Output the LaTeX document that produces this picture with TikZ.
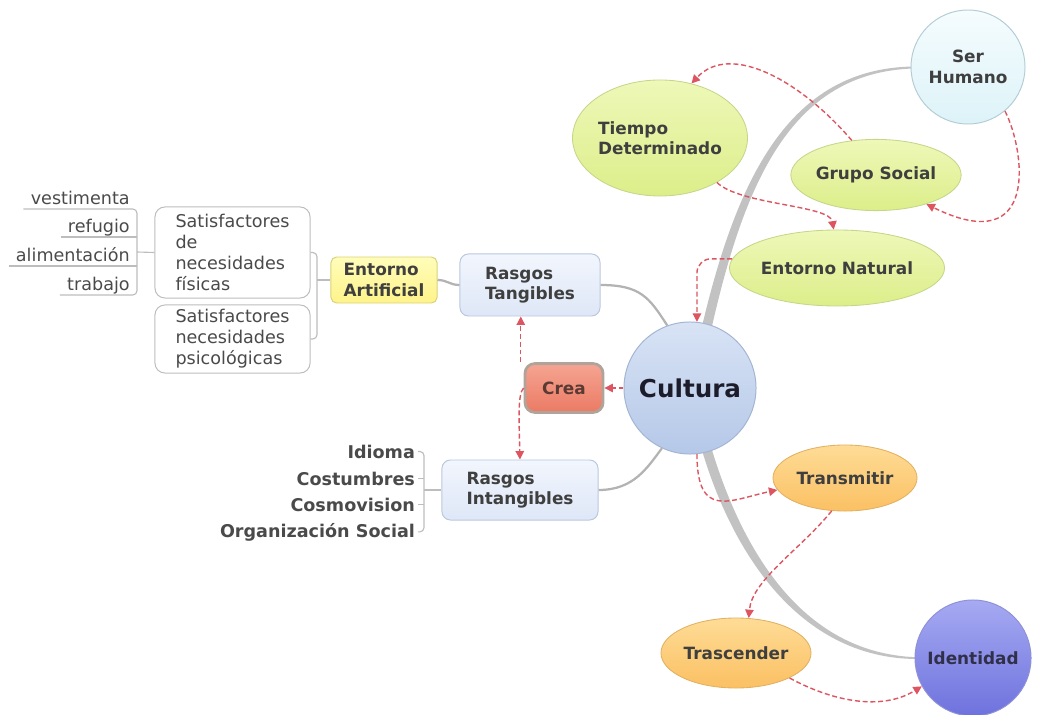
\documentclass[tikz,border=0pt]{standalone}
\usepackage{fontspec}
\setmainfont{DejaVu Sans}
\usetikzlibrary{shapes.geometric,arrows.meta,calc}
\definecolor{txt}{HTML}{3F3F3F}
\definecolor{leaftxt}{HTML}{4A4A4A}
\definecolor{greenTop}{HTML}{EEF8B8}
\definecolor{greenBot}{HTML}{DCEE8A}
\definecolor{greenDraw}{HTML}{C5D68A}
\definecolor{orangeTop}{HTML}{FEDC96}
\definecolor{orangeBot}{HTML}{FBC063}
\definecolor{orangeDraw}{HTML}{E2B061}
\definecolor{cultTop}{HTML}{D8E3F5}
\definecolor{cultBot}{HTML}{B5C8E8}
\definecolor{cultDraw}{HTML}{A3B5D3}
\definecolor{cultTxt}{HTML}{1C1C2A}
\definecolor{shTop}{HTML}{F5FCFE}
\definecolor{shBot}{HTML}{DDF3F8}
\definecolor{shDraw}{HTML}{B4CDD5}
\definecolor{idTop}{HTML}{A6AAF2}
\definecolor{idBot}{HTML}{6E72DD}
\definecolor{idDraw}{HTML}{8E90D8}
\definecolor{idTxt}{HTML}{30304A}
\definecolor{creaTop}{HTML}{F5A592}
\definecolor{creaBot}{HTML}{EB7A64}
\definecolor{creaDraw}{HTML}{B0A49A}
\definecolor{creaTxt}{HTML}{5A3A32}
\definecolor{bbTop}{HTML}{F2F6FD}
\definecolor{bbBot}{HTML}{DEE7F7}
\definecolor{bbDraw}{HTML}{BAC8DE}
\definecolor{yTop}{HTML}{FFFDBA}
\definecolor{yBot}{HTML}{FFF38A}
\definecolor{yDraw}{HTML}{D9D27A}
\definecolor{wbDraw}{HTML}{BDBDBD}
\definecolor{connGrey}{HTML}{B3B3B3}
\definecolor{thickGrey}{HTML}{C2C2C2}
\definecolor{arrowRed}{HTML}{DC5560}
\begin{document}
\begin{tikzpicture}[x=0.025cm,y=-0.025cm,
  lbl/.style={font=\fontsize{12}{14.5}\selectfont\bfseries, text=txt, align=center, inner sep=0pt},
  ell/.style={ellipse, line width=0.6pt, lbl},
  greenell/.style={ell, top color=greenTop, bottom color=greenBot, draw=greenDraw},
  orangeell/.style={ell, top color=orangeTop, bottom color=orangeBot, draw=orangeDraw},
  bluebox/.style={rectangle, rounded corners=6pt, top color=bbTop, bottom color=bbBot, draw=bbDraw, line width=0.7pt, lbl, align=left},
  yellowbox/.style={rectangle, rounded corners=4pt, top color=yTop, bottom color=yBot, draw=yDraw, line width=0.7pt, lbl, align=left},
  whitebox/.style={rectangle, rounded corners=7pt, fill=white, draw=wbDraw, line width=0.7pt, font=\fontsize{12.5}{15}\selectfont, text=leaftxt, align=left, inner sep=0pt},
  leaf/.style={font=\fontsize{12.5}{15}\selectfont, text=leaftxt, anchor=south east, inner xsep=5pt, inner ysep=0.5pt, text height=0.75em, text depth=0.25em},
  bleaf/.style={font=\fontsize{12.5}{15}\selectfont\bfseries, text=leaftxt, anchor=base east, inner xsep=2pt, inner ysep=0pt},
  thinline/.style={draw=wbDraw, line width=0.8pt},
  conn/.style={draw=connGrey, line width=1.6pt},
  redarrow/.style={draw=arrowRed, line width=1pt, dash pattern=on 3.5pt off 2pt, -{Triangle[length=6pt,width=6pt]}}
]
\useasboundingbox (0,0) rectangle (1039,715);

% thick grey tapered branches (drawn first, under the nodes)
\fill[thickGrey] (700,335) .. controls (736,178) and (789,68) .. (914,66.5)
   -- (914,68.5) .. controls (791,72) and (744,182) .. (710,335) -- cycle;
\fill[thickGrey] (699,440) .. controls (730,552) and (799,658) .. (916,659)
   -- (916,657.2) .. controls (801,653) and (740,548) .. (709,440) -- cycle;

% nodes
\node[circle, minimum size=3.3cm, top color=cultTop, bottom color=cultBot, draw=cultDraw, line width=0.7pt, inner sep=0pt, font=\fontsize{17.5}{20}\selectfont\bfseries, text=cultTxt] (cu) at (690,388) {Cultura};
\node[circle, minimum size=2.85cm, top color=shTop, bottom color=shBot, draw=shDraw, line width=0.7pt, lbl] (sh) at (968,67) {Ser\\Humano};
\node[circle, minimum size=2.9cm, top color=idTop, bottom color=idBot, draw=idDraw, line width=0.7pt, lbl, text=idTxt] (id) at (973,658) {Identidad};
\node[greenell, minimum width=4.25cm, minimum height=2.9cm, align=left] (td) at (660,138) {Tiempo\\Determinado};
\node[greenell, minimum width=4.05cm, minimum height=1.78cm] (gs) at (876,175) {Grupo Social};
\node[greenell, minimum width=4.9cm, minimum height=1.9cm] (en) at (837,268) {Entorno Natural};
\node[orangeell, minimum width=3.6cm, minimum height=1.65cm] (tr) at (845,478) {Transmitir};
\node[orangeell, minimum width=3.75cm, minimum height=1.75cm] (ts) at (736,653) {Trascender};
\node[rectangle, rounded corners=7pt, minimum width=1.95cm, minimum height=1.22cm, top color=creaTop, bottom color=creaBot, draw=creaDraw, line width=2pt, lbl, text=creaTxt] (crea) at (564,388) {Crea};
\node[bluebox, minimum width=3.5cm, minimum height=1.55cm] (rt) at (530,285) {Rasgos\\Tangibles};
\node[bluebox, minimum width=3.9cm, minimum height=1.5cm] (ri) at (520,490) {Rasgos\\Intangibles};
\node[yellowbox, minimum width=2.65cm, minimum height=1.15cm] (ea) at (384,280) {Entorno\\Artificial};
\node[whitebox, minimum width=3.875cm, minimum height=2.275cm] (sf) at (232.5,252.5) {Satisfactores\\de\\necesidades\\físicas};
\node[whitebox, minimum width=3.875cm, minimum height=1.7cm] (sp) at (232.5,339) {Satisfactores\\necesidades\\psicológicas};

% leaves (physical needs)
\node[leaf] (v) at (137,209) {vestimenta};
\node[leaf] (r) at (137,237) {refugio};
\node[leaf] (a) at (137,266) {alimentación};
\node[leaf] (t) at (137,295) {trabajo};
\coordinate (lx) at (137,252);
\draw[thinline, rounded corners=3pt] (v.south west) -- (v.south east) -- (t.south east) -- (t.south west);
\draw[thinline] (r.south west) -- (r.south east);
\draw[thinline] (a.south west) -- (a.south east);
\draw[thinline] (lx) -- (sf.west);

% satisfactores -> entorno artificial
\coordinate (sx) at (317,280);
\draw[thinline, rounded corners=3pt] (sf.east) -| (sx) |- (sp.east);
\draw[thinline] (sx) -- (ea.west);

% leaves (intangibles)
\node[bleaf] (i1) at (418,458) {Idioma};
\node[bleaf] (i2) at (418,485) {Costumbres};
\node[bleaf] (i3) at (418,511) {Cosmovision};
\node[bleaf] (i4) at (418,537) {Organización Social};
\coordinate (bx) at (424,490);
\draw[thinline, rounded corners=3pt] (i1.east) -| (bx) |- (i4.east);
\draw[thinline] (i2.east) -- (i2.east -| bx);
\draw[thinline] (i3.east) -- (i3.east -| bx);
\draw[thinline] (bx) -- (ri.west);

% grey connectors
\draw[conn] (ea.east) .. controls +(10,0) and +(-10,0) .. (rt.west);
\draw[conn] (rt.east) .. controls +(40,0) and +(-18,-28) .. (cu.110);
\draw[conn] (ri.east) .. controls +(35,0) and +(-15,20) .. (cu.-115);

% red dashed arrows
\draw[redarrow] (gs.125) .. controls (800,80) and (730,42) .. (td.60);
\draw[redarrow] (sh.-50) .. controls (1025,150) and (1040,260) .. (gs.-30);
\draw[redarrow] (td.-38) .. controls (740,205) and (830,205) .. (en.95);
\draw[redarrow, rounded corners=10pt] (en.175) -| (cu.84);
\draw[redarrow] (cu.west) -- (crea.east);
\draw[redarrow] ([xshift=-2pt]crea.north west) -- ([xshift=-2pt]crea.north west |- rt.south);
\draw[redarrow] (crea.west) .. controls +(-6,6) and (519,420) .. (ri.north);
\draw[redarrow] (cu.-84) .. controls (697,520) and (730,500) .. (tr.-170);
\draw[redarrow] (tr.-112) .. controls (800,550) and (752,580) .. (ts.70);
\draw[redarrow] (ts.-25) .. controls (830,700) and (880,712) .. (id.-151);
\end{tikzpicture}
\end{document}
